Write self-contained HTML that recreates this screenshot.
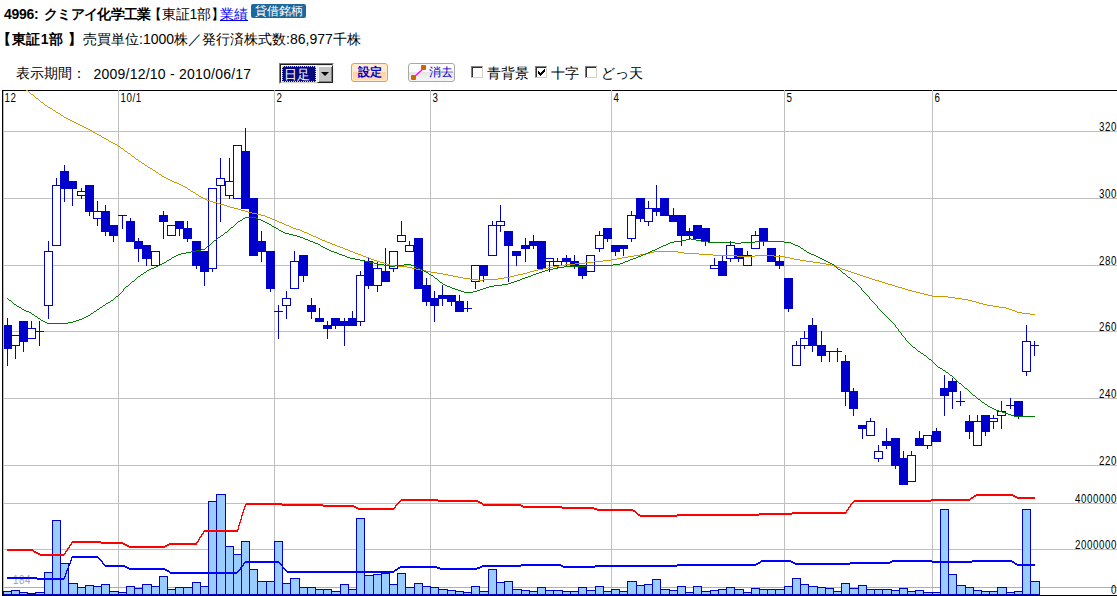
<!DOCTYPE html>
<html lang="ja">
<head>
<meta charset="utf-8">
<title>4996: クミアイ化学工業</title>
<style>
html,body{margin:0;padding:0;background:#fff;}
body{width:1117px;height:596px;overflow:hidden;position:relative;font-family:"Liberation Sans",sans-serif;color:#000;}
#chart{position:absolute;left:0;top:0;}
#chart text{font-family:"Liberation Sans",sans-serif;}
.t{position:absolute;white-space:nowrap;line-height:16px;font-size:14px;}
.b{font-weight:bold;}
a.lnk{color:#0000ee;text-decoration:underline;}
.badge{position:absolute;left:251px;top:4px;width:55px;height:14px;background:#1b6a9c;border-radius:2px;color:#fff;font-size:12px;line-height:14px;text-align:center;white-space:nowrap;overflow:hidden;}
.r3{font-size:14px;line-height:16px;}
.sel{position:absolute;left:279px;top:63px;width:55px;height:21px;box-sizing:border-box;border:1px solid;border-color:#808080 #f4f4f4 #f4f4f4 #808080;background:#fff;}
.sel .in{position:absolute;left:0;top:0;width:53px;height:19px;box-sizing:border-box;border:1px solid;border-color:#202020 #d4d0c8 #d4d0c8 #202020;}
.sel .hl{position:absolute;left:2px;top:2px;width:34px;height:16px;box-sizing:border-box;background:#0a0a80;color:#fff;font-size:13px;line-height:15px;border:1px dotted #e8e060;overflow:hidden;padding-left:1px;}
.sel .dd{position:absolute;left:37px;top:1px;width:16px;height:18px;background:#c4c4c4;box-sizing:border-box;border:1px solid;border-color:#e8e8e8 #202020 #202020 #e8e8e8;box-shadow:inset 1px 1px 0 #fff, inset -1px -1px 0 #808080;}
.sel .dd:after{content:"";position:absolute;left:3px;top:6px;border:4px solid transparent;border-top:4px solid #000;border-bottom:none;}
.btn1{position:absolute;left:351px;top:63px;width:37px;height:19px;box-sizing:border-box;border:1px solid #ff9a1e;border-radius:3px;background:linear-gradient(#fff0e0 0%,#ffe6cc 47%,#ffd2a4 48%,#ffdcb8 100%);box-shadow:inset 0 0 0 1px #ffe9cf;color:#0000cc;font-size:12px;font-weight:bold;line-height:17px;text-align:center;}
.btn2{position:absolute;left:408px;top:63px;width:47px;height:19px;box-sizing:border-box;border:1px solid #a8a8a8;border-radius:3px;background:linear-gradient(#ffffff 0%,#fbfbfb 47%,#e6e6e6 48%,#f6f6f6 100%);color:#0000cc;font-size:12px;line-height:17px;}
.btn2 span{position:absolute;left:20px;top:0;}
.btn2 svg{position:absolute;left:0px;top:0px;}
.cb{position:absolute;top:66px;width:12px;height:12px;box-sizing:border-box;border:1px solid;border-color:#808080 #d4d0c8 #d4d0c8 #808080;background:#fff;box-shadow:inset 1px 1px 0 #303030;}
</style>
</head>
<body>
<svg id="chart" width="1117" height="596" viewBox="0 0 1117 596" shape-rendering="crispEdges">
<rect x="2" y="90" width="1115" height="1" fill="#000"/>
<g fill="#c0c0c0">
<rect x="4" y="131" width="1113" height="1"/>
<rect x="4" y="198" width="1113" height="1"/>
<rect x="4" y="265" width="1113" height="1"/>
<rect x="4" y="331" width="1113" height="1"/>
<rect x="4" y="398" width="1113" height="1"/>
<rect x="4" y="465" width="1113" height="1"/>
<rect x="4" y="503" width="1113" height="1"/>
<rect x="4" y="549" width="1113" height="1"/>
<rect x="118" y="90" width="1" height="505"/>
<rect x="274" y="90" width="1" height="505"/>
<rect x="430" y="90" width="1" height="505"/>
<rect x="611" y="90" width="1" height="505"/>
<rect x="784" y="90" width="1" height="505"/>
<rect x="932" y="90" width="1" height="505"/>
</g>
<rect x="3" y="91" width="1" height="504" fill="#b4b4f0"/>
<rect x="4" y="587" width="1113" height="1" fill="#a8a8e8"/>
<text transform="translate(13,584) scale(0.78,1)" font-size="12.5" letter-spacing="0.742" fill="#a0a0dc">184</text>
<g>
<rect x="3" y="591" width="9" height="4" fill="#0000cc"/>
<rect x="4" y="592" width="7" height="2" fill="#99ccff"/>
<rect x="11" y="590" width="9" height="5" fill="#0000cc"/>
<rect x="12" y="591" width="7" height="3" fill="#99ccff"/>
<rect x="19" y="592" width="9" height="3" fill="#0000cc"/>
<rect x="20" y="593" width="7" height="1" fill="#99ccff"/>
<rect x="27" y="593" width="9" height="2" fill="#0000cc"/>
<rect x="35" y="592" width="10" height="3" fill="#0000cc"/>
<rect x="36" y="593" width="8" height="1" fill="#99ccff"/>
<rect x="44" y="572" width="9" height="23" fill="#0000cc"/>
<rect x="45" y="573" width="7" height="21" fill="#99ccff"/>
<rect x="52" y="520" width="9" height="75" fill="#0000cc"/>
<rect x="53" y="521" width="7" height="73" fill="#99ccff"/>
<rect x="60" y="563" width="9" height="32" fill="#0000cc"/>
<rect x="61" y="564" width="7" height="30" fill="#99ccff"/>
<rect x="68" y="583" width="10" height="12" fill="#0000cc"/>
<rect x="69" y="584" width="8" height="10" fill="#99ccff"/>
<rect x="77" y="587" width="9" height="8" fill="#0000cc"/>
<rect x="78" y="588" width="7" height="6" fill="#99ccff"/>
<rect x="85" y="585" width="9" height="10" fill="#0000cc"/>
<rect x="86" y="586" width="7" height="8" fill="#99ccff"/>
<rect x="93" y="586" width="9" height="9" fill="#0000cc"/>
<rect x="94" y="587" width="7" height="7" fill="#99ccff"/>
<rect x="101" y="584" width="9" height="11" fill="#0000cc"/>
<rect x="102" y="585" width="7" height="9" fill="#99ccff"/>
<rect x="109" y="591" width="10" height="4" fill="#0000cc"/>
<rect x="110" y="592" width="8" height="2" fill="#99ccff"/>
<rect x="118" y="592" width="9" height="3" fill="#0000cc"/>
<rect x="119" y="593" width="7" height="1" fill="#99ccff"/>
<rect x="126" y="586" width="9" height="9" fill="#0000cc"/>
<rect x="127" y="587" width="7" height="7" fill="#99ccff"/>
<rect x="134" y="588" width="9" height="7" fill="#0000cc"/>
<rect x="135" y="589" width="7" height="5" fill="#99ccff"/>
<rect x="142" y="584" width="10" height="11" fill="#0000cc"/>
<rect x="143" y="585" width="8" height="9" fill="#99ccff"/>
<rect x="151" y="586" width="9" height="9" fill="#0000cc"/>
<rect x="152" y="587" width="7" height="7" fill="#99ccff"/>
<rect x="159" y="576" width="9" height="19" fill="#0000cc"/>
<rect x="160" y="577" width="7" height="17" fill="#99ccff"/>
<rect x="167" y="589" width="9" height="6" fill="#0000cc"/>
<rect x="168" y="590" width="7" height="4" fill="#99ccff"/>
<rect x="175" y="587" width="9" height="8" fill="#0000cc"/>
<rect x="176" y="588" width="7" height="6" fill="#99ccff"/>
<rect x="183" y="587" width="10" height="8" fill="#0000cc"/>
<rect x="184" y="588" width="8" height="6" fill="#99ccff"/>
<rect x="192" y="582" width="9" height="13" fill="#0000cc"/>
<rect x="193" y="583" width="7" height="11" fill="#99ccff"/>
<rect x="200" y="586" width="9" height="9" fill="#0000cc"/>
<rect x="201" y="587" width="7" height="7" fill="#99ccff"/>
<rect x="208" y="501" width="9" height="94" fill="#0000cc"/>
<rect x="209" y="502" width="7" height="92" fill="#99ccff"/>
<rect x="216" y="494" width="10" height="101" fill="#0000cc"/>
<rect x="217" y="495" width="8" height="99" fill="#99ccff"/>
<rect x="225" y="546" width="9" height="49" fill="#0000cc"/>
<rect x="226" y="547" width="7" height="47" fill="#99ccff"/>
<rect x="233" y="554" width="9" height="41" fill="#0000cc"/>
<rect x="234" y="555" width="7" height="39" fill="#99ccff"/>
<rect x="241" y="541" width="9" height="54" fill="#0000cc"/>
<rect x="242" y="542" width="7" height="52" fill="#99ccff"/>
<rect x="249" y="569" width="9" height="26" fill="#0000cc"/>
<rect x="250" y="570" width="7" height="24" fill="#99ccff"/>
<rect x="257" y="581" width="10" height="14" fill="#0000cc"/>
<rect x="258" y="582" width="8" height="12" fill="#99ccff"/>
<rect x="266" y="581" width="9" height="14" fill="#0000cc"/>
<rect x="267" y="582" width="7" height="12" fill="#99ccff"/>
<rect x="274" y="541" width="9" height="54" fill="#0000cc"/>
<rect x="275" y="542" width="7" height="52" fill="#99ccff"/>
<rect x="282" y="583" width="9" height="12" fill="#0000cc"/>
<rect x="283" y="584" width="7" height="10" fill="#99ccff"/>
<rect x="290" y="578" width="10" height="17" fill="#0000cc"/>
<rect x="291" y="579" width="8" height="15" fill="#99ccff"/>
<rect x="299" y="587" width="9" height="8" fill="#0000cc"/>
<rect x="300" y="588" width="7" height="6" fill="#99ccff"/>
<rect x="307" y="587" width="9" height="8" fill="#0000cc"/>
<rect x="308" y="588" width="7" height="6" fill="#99ccff"/>
<rect x="315" y="589" width="9" height="6" fill="#0000cc"/>
<rect x="316" y="590" width="7" height="4" fill="#99ccff"/>
<rect x="323" y="589" width="9" height="6" fill="#0000cc"/>
<rect x="324" y="590" width="7" height="4" fill="#99ccff"/>
<rect x="331" y="591" width="10" height="4" fill="#0000cc"/>
<rect x="332" y="592" width="8" height="2" fill="#99ccff"/>
<rect x="340" y="584" width="9" height="11" fill="#0000cc"/>
<rect x="341" y="585" width="7" height="9" fill="#99ccff"/>
<rect x="348" y="589" width="9" height="6" fill="#0000cc"/>
<rect x="349" y="590" width="7" height="4" fill="#99ccff"/>
<rect x="356" y="518" width="9" height="77" fill="#0000cc"/>
<rect x="357" y="519" width="7" height="75" fill="#99ccff"/>
<rect x="364" y="575" width="10" height="20" fill="#0000cc"/>
<rect x="365" y="576" width="8" height="18" fill="#99ccff"/>
<rect x="373" y="574" width="9" height="21" fill="#0000cc"/>
<rect x="374" y="575" width="7" height="19" fill="#99ccff"/>
<rect x="381" y="573" width="9" height="22" fill="#0000cc"/>
<rect x="382" y="574" width="7" height="20" fill="#99ccff"/>
<rect x="389" y="584" width="9" height="11" fill="#0000cc"/>
<rect x="390" y="585" width="7" height="9" fill="#99ccff"/>
<rect x="397" y="573" width="9" height="22" fill="#0000cc"/>
<rect x="398" y="574" width="7" height="20" fill="#99ccff"/>
<rect x="405" y="587" width="10" height="8" fill="#0000cc"/>
<rect x="406" y="588" width="8" height="6" fill="#99ccff"/>
<rect x="414" y="583" width="9" height="12" fill="#0000cc"/>
<rect x="415" y="584" width="7" height="10" fill="#99ccff"/>
<rect x="422" y="586" width="9" height="9" fill="#0000cc"/>
<rect x="423" y="587" width="7" height="7" fill="#99ccff"/>
<rect x="430" y="587" width="9" height="8" fill="#0000cc"/>
<rect x="431" y="588" width="7" height="6" fill="#99ccff"/>
<rect x="438" y="589" width="10" height="6" fill="#0000cc"/>
<rect x="439" y="590" width="8" height="4" fill="#99ccff"/>
<rect x="447" y="590" width="9" height="5" fill="#0000cc"/>
<rect x="448" y="591" width="7" height="3" fill="#99ccff"/>
<rect x="455" y="591" width="9" height="4" fill="#0000cc"/>
<rect x="456" y="592" width="7" height="2" fill="#99ccff"/>
<rect x="463" y="592" width="9" height="3" fill="#0000cc"/>
<rect x="464" y="593" width="7" height="1" fill="#99ccff"/>
<rect x="471" y="586" width="9" height="9" fill="#0000cc"/>
<rect x="472" y="587" width="7" height="7" fill="#99ccff"/>
<rect x="479" y="591" width="10" height="4" fill="#0000cc"/>
<rect x="480" y="592" width="8" height="2" fill="#99ccff"/>
<rect x="488" y="569" width="9" height="26" fill="#0000cc"/>
<rect x="489" y="570" width="7" height="24" fill="#99ccff"/>
<rect x="496" y="582" width="9" height="13" fill="#0000cc"/>
<rect x="497" y="583" width="7" height="11" fill="#99ccff"/>
<rect x="504" y="581" width="9" height="14" fill="#0000cc"/>
<rect x="505" y="582" width="7" height="12" fill="#99ccff"/>
<rect x="512" y="589" width="10" height="6" fill="#0000cc"/>
<rect x="513" y="590" width="8" height="4" fill="#99ccff"/>
<rect x="521" y="590" width="9" height="5" fill="#0000cc"/>
<rect x="522" y="591" width="7" height="3" fill="#99ccff"/>
<rect x="529" y="591" width="9" height="4" fill="#0000cc"/>
<rect x="530" y="592" width="7" height="2" fill="#99ccff"/>
<rect x="537" y="587" width="9" height="8" fill="#0000cc"/>
<rect x="538" y="588" width="7" height="6" fill="#99ccff"/>
<rect x="545" y="590" width="9" height="5" fill="#0000cc"/>
<rect x="546" y="591" width="7" height="3" fill="#99ccff"/>
<rect x="553" y="590" width="10" height="5" fill="#0000cc"/>
<rect x="554" y="591" width="8" height="3" fill="#99ccff"/>
<rect x="562" y="591" width="9" height="4" fill="#0000cc"/>
<rect x="563" y="592" width="7" height="2" fill="#99ccff"/>
<rect x="570" y="591" width="9" height="4" fill="#0000cc"/>
<rect x="571" y="592" width="7" height="2" fill="#99ccff"/>
<rect x="578" y="587" width="9" height="8" fill="#0000cc"/>
<rect x="579" y="588" width="7" height="6" fill="#99ccff"/>
<rect x="586" y="590" width="10" height="5" fill="#0000cc"/>
<rect x="587" y="591" width="8" height="3" fill="#99ccff"/>
<rect x="595" y="586" width="9" height="9" fill="#0000cc"/>
<rect x="596" y="587" width="7" height="7" fill="#99ccff"/>
<rect x="603" y="591" width="9" height="4" fill="#0000cc"/>
<rect x="604" y="592" width="7" height="2" fill="#99ccff"/>
<rect x="611" y="589" width="9" height="6" fill="#0000cc"/>
<rect x="612" y="590" width="7" height="4" fill="#99ccff"/>
<rect x="619" y="591" width="9" height="4" fill="#0000cc"/>
<rect x="620" y="592" width="7" height="2" fill="#99ccff"/>
<rect x="627" y="581" width="10" height="14" fill="#0000cc"/>
<rect x="628" y="582" width="8" height="12" fill="#99ccff"/>
<rect x="636" y="585" width="9" height="10" fill="#0000cc"/>
<rect x="637" y="586" width="7" height="8" fill="#99ccff"/>
<rect x="644" y="584" width="9" height="11" fill="#0000cc"/>
<rect x="645" y="585" width="7" height="9" fill="#99ccff"/>
<rect x="652" y="579" width="9" height="16" fill="#0000cc"/>
<rect x="653" y="580" width="7" height="14" fill="#99ccff"/>
<rect x="660" y="589" width="10" height="6" fill="#0000cc"/>
<rect x="661" y="590" width="8" height="4" fill="#99ccff"/>
<rect x="669" y="590" width="9" height="5" fill="#0000cc"/>
<rect x="670" y="591" width="7" height="3" fill="#99ccff"/>
<rect x="677" y="586" width="9" height="9" fill="#0000cc"/>
<rect x="678" y="587" width="7" height="7" fill="#99ccff"/>
<rect x="685" y="592" width="9" height="3" fill="#0000cc"/>
<rect x="686" y="593" width="7" height="1" fill="#99ccff"/>
<rect x="693" y="586" width="9" height="9" fill="#0000cc"/>
<rect x="694" y="587" width="7" height="7" fill="#99ccff"/>
<rect x="701" y="591" width="10" height="4" fill="#0000cc"/>
<rect x="702" y="592" width="8" height="2" fill="#99ccff"/>
<rect x="710" y="590" width="9" height="5" fill="#0000cc"/>
<rect x="711" y="591" width="7" height="3" fill="#99ccff"/>
<rect x="718" y="589" width="9" height="6" fill="#0000cc"/>
<rect x="719" y="590" width="7" height="4" fill="#99ccff"/>
<rect x="726" y="587" width="9" height="8" fill="#0000cc"/>
<rect x="727" y="588" width="7" height="6" fill="#99ccff"/>
<rect x="734" y="589" width="10" height="6" fill="#0000cc"/>
<rect x="735" y="590" width="8" height="4" fill="#99ccff"/>
<rect x="743" y="592" width="9" height="3" fill="#0000cc"/>
<rect x="744" y="593" width="7" height="1" fill="#99ccff"/>
<rect x="751" y="588" width="9" height="7" fill="#0000cc"/>
<rect x="752" y="589" width="7" height="5" fill="#99ccff"/>
<rect x="759" y="589" width="9" height="6" fill="#0000cc"/>
<rect x="760" y="590" width="7" height="4" fill="#99ccff"/>
<rect x="767" y="589" width="9" height="6" fill="#0000cc"/>
<rect x="768" y="590" width="7" height="4" fill="#99ccff"/>
<rect x="775" y="589" width="10" height="6" fill="#0000cc"/>
<rect x="776" y="590" width="8" height="4" fill="#99ccff"/>
<rect x="784" y="586" width="9" height="9" fill="#0000cc"/>
<rect x="785" y="587" width="7" height="7" fill="#99ccff"/>
<rect x="792" y="578" width="9" height="17" fill="#0000cc"/>
<rect x="793" y="579" width="7" height="15" fill="#99ccff"/>
<rect x="800" y="584" width="9" height="11" fill="#0000cc"/>
<rect x="801" y="585" width="7" height="9" fill="#99ccff"/>
<rect x="808" y="586" width="10" height="9" fill="#0000cc"/>
<rect x="809" y="587" width="8" height="7" fill="#99ccff"/>
<rect x="817" y="587" width="9" height="8" fill="#0000cc"/>
<rect x="818" y="588" width="7" height="6" fill="#99ccff"/>
<rect x="825" y="588" width="9" height="7" fill="#0000cc"/>
<rect x="826" y="589" width="7" height="5" fill="#99ccff"/>
<rect x="833" y="591" width="9" height="4" fill="#0000cc"/>
<rect x="834" y="592" width="7" height="2" fill="#99ccff"/>
<rect x="841" y="583" width="9" height="12" fill="#0000cc"/>
<rect x="842" y="584" width="7" height="10" fill="#99ccff"/>
<rect x="849" y="588" width="10" height="7" fill="#0000cc"/>
<rect x="850" y="589" width="8" height="5" fill="#99ccff"/>
<rect x="858" y="585" width="9" height="10" fill="#0000cc"/>
<rect x="859" y="586" width="7" height="8" fill="#99ccff"/>
<rect x="866" y="589" width="9" height="6" fill="#0000cc"/>
<rect x="867" y="590" width="7" height="4" fill="#99ccff"/>
<rect x="874" y="589" width="9" height="6" fill="#0000cc"/>
<rect x="875" y="590" width="7" height="4" fill="#99ccff"/>
<rect x="882" y="589" width="10" height="6" fill="#0000cc"/>
<rect x="883" y="590" width="8" height="4" fill="#99ccff"/>
<rect x="891" y="590" width="9" height="5" fill="#0000cc"/>
<rect x="892" y="591" width="7" height="3" fill="#99ccff"/>
<rect x="899" y="588" width="9" height="7" fill="#0000cc"/>
<rect x="900" y="589" width="7" height="5" fill="#99ccff"/>
<rect x="907" y="591" width="9" height="4" fill="#0000cc"/>
<rect x="908" y="592" width="7" height="2" fill="#99ccff"/>
<rect x="915" y="590" width="9" height="5" fill="#0000cc"/>
<rect x="916" y="591" width="7" height="3" fill="#99ccff"/>
<rect x="923" y="592" width="10" height="3" fill="#0000cc"/>
<rect x="924" y="593" width="8" height="1" fill="#99ccff"/>
<rect x="932" y="592" width="9" height="3" fill="#0000cc"/>
<rect x="933" y="593" width="7" height="1" fill="#99ccff"/>
<rect x="940" y="509" width="9" height="86" fill="#0000cc"/>
<rect x="941" y="510" width="7" height="84" fill="#99ccff"/>
<rect x="948" y="574" width="9" height="21" fill="#0000cc"/>
<rect x="949" y="575" width="7" height="19" fill="#99ccff"/>
<rect x="956" y="585" width="10" height="10" fill="#0000cc"/>
<rect x="957" y="586" width="8" height="8" fill="#99ccff"/>
<rect x="965" y="587" width="9" height="8" fill="#0000cc"/>
<rect x="966" y="588" width="7" height="6" fill="#99ccff"/>
<rect x="973" y="590" width="9" height="5" fill="#0000cc"/>
<rect x="974" y="591" width="7" height="3" fill="#99ccff"/>
<rect x="981" y="591" width="9" height="4" fill="#0000cc"/>
<rect x="982" y="592" width="7" height="2" fill="#99ccff"/>
<rect x="989" y="591" width="9" height="4" fill="#0000cc"/>
<rect x="990" y="592" width="7" height="2" fill="#99ccff"/>
<rect x="997" y="587" width="10" height="8" fill="#0000cc"/>
<rect x="998" y="588" width="8" height="6" fill="#99ccff"/>
<rect x="1006" y="592" width="9" height="3" fill="#0000cc"/>
<rect x="1007" y="593" width="7" height="1" fill="#99ccff"/>
<rect x="1014" y="591" width="9" height="4" fill="#0000cc"/>
<rect x="1015" y="592" width="7" height="2" fill="#99ccff"/>
<rect x="1022" y="509" width="9" height="86" fill="#0000cc"/>
<rect x="1023" y="510" width="7" height="84" fill="#99ccff"/>
<rect x="1030" y="581" width="10" height="14" fill="#0000cc"/>
<rect x="1031" y="582" width="8" height="12" fill="#99ccff"/>
</g>
<g fill="#0000cc">
<rect x="7" y="318" width="1" height="48"/>
<rect x="4" y="325" width="8" height="24"/>
<rect x="15" y="335" width="1" height="24"/>
<rect x="11" y="335" width="9" height="11"/>
<rect x="12" y="336" width="7" height="9" fill="#fff"/>
<rect x="23" y="321" width="1" height="31"/>
<rect x="19" y="321" width="9" height="21"/>
<rect x="31" y="321" width="1" height="18"/>
<rect x="27" y="328" width="9" height="11"/>
<rect x="28" y="329" width="7" height="9" fill="#fff"/>
<rect x="39" y="321" width="1" height="25"/>
<rect x="35" y="331" width="9" height="1"/>
<rect x="48" y="241" width="1" height="78"/>
<rect x="44" y="251" width="9" height="55"/>
<rect x="45" y="252" width="7" height="53" fill="#fff"/>
<rect x="56" y="178" width="1" height="68"/>
<rect x="52" y="185" width="9" height="61"/>
<rect x="53" y="186" width="7" height="59" fill="#fff"/>
<rect x="64" y="165" width="1" height="37"/>
<rect x="60" y="171" width="9" height="18"/>
<rect x="72" y="181" width="1" height="25"/>
<rect x="68" y="181" width="9" height="8"/>
<rect x="81" y="188" width="1" height="11"/>
<rect x="77" y="191" width="9" height="5"/>
<rect x="78" y="192" width="7" height="3" fill="#fff"/>
<rect x="89" y="185" width="1" height="31"/>
<rect x="85" y="185" width="9" height="27"/>
<rect x="97" y="201" width="1" height="25"/>
<rect x="93" y="211" width="9" height="8"/>
<rect x="94" y="212" width="7" height="6" fill="#fff"/>
<rect x="105" y="205" width="1" height="31"/>
<rect x="101" y="211" width="9" height="21"/>
<rect x="113" y="225" width="1" height="17"/>
<rect x="109" y="225" width="9" height="11"/>
<rect x="122" y="215" width="1" height="14"/>
<rect x="118" y="215" width="9" height="1"/>
<rect x="130" y="218" width="1" height="24"/>
<rect x="126" y="221" width="9" height="21"/>
<rect x="138" y="238" width="1" height="24"/>
<rect x="134" y="241" width="9" height="8"/>
<rect x="146" y="245" width="1" height="21"/>
<rect x="142" y="245" width="9" height="14"/>
<rect x="155" y="251" width="1" height="15"/>
<rect x="151" y="251" width="9" height="15"/>
<rect x="152" y="252" width="7" height="13" fill="#fff"/>
<rect x="163" y="211" width="1" height="28"/>
<rect x="159" y="215" width="9" height="7"/>
<rect x="171" y="225" width="1" height="11"/>
<rect x="167" y="225" width="9" height="11"/>
<rect x="168" y="226" width="7" height="9" fill="#fff"/>
<rect x="179" y="221" width="1" height="15"/>
<rect x="175" y="221" width="9" height="8"/>
<rect x="187" y="221" width="1" height="21"/>
<rect x="183" y="228" width="9" height="11"/>
<rect x="196" y="241" width="1" height="28"/>
<rect x="192" y="241" width="9" height="25"/>
<rect x="204" y="251" width="1" height="35"/>
<rect x="200" y="251" width="9" height="21"/>
<rect x="212" y="188" width="1" height="84"/>
<rect x="208" y="188" width="9" height="81"/>
<rect x="209" y="189" width="7" height="79" fill="#fff"/>
<rect x="220" y="158" width="1" height="64"/>
<rect x="216" y="178" width="9" height="8"/>
<rect x="217" y="179" width="7" height="6" fill="#fff"/>
<rect x="229" y="158" width="1" height="41"/>
<rect x="225" y="181" width="9" height="15"/>
<rect x="226" y="182" width="7" height="13" fill="#fff"/>
<rect x="237" y="145" width="1" height="54"/>
<rect x="233" y="145" width="9" height="54"/>
<rect x="234" y="146" width="7" height="52" fill="#fff"/>
<rect x="245" y="128" width="1" height="81"/>
<rect x="241" y="151" width="9" height="58"/>
<rect x="253" y="198" width="1" height="58"/>
<rect x="249" y="198" width="9" height="58"/>
<rect x="261" y="231" width="1" height="31"/>
<rect x="257" y="241" width="9" height="11"/>
<rect x="270" y="251" width="1" height="41"/>
<rect x="266" y="251" width="9" height="38"/>
<rect x="278" y="305" width="1" height="34"/>
<rect x="274" y="311" width="9" height="1"/>
<rect x="286" y="291" width="1" height="28"/>
<rect x="282" y="298" width="9" height="8"/>
<rect x="283" y="299" width="7" height="6" fill="#fff"/>
<rect x="294" y="251" width="1" height="38"/>
<rect x="290" y="261" width="9" height="28"/>
<rect x="291" y="262" width="7" height="26" fill="#fff"/>
<rect x="303" y="255" width="1" height="27"/>
<rect x="299" y="255" width="9" height="21"/>
<rect x="311" y="298" width="1" height="21"/>
<rect x="307" y="305" width="9" height="7"/>
<rect x="319" y="308" width="1" height="14"/>
<rect x="315" y="318" width="9" height="4"/>
<rect x="327" y="321" width="1" height="18"/>
<rect x="323" y="325" width="9" height="4"/>
<rect x="335" y="318" width="1" height="11"/>
<rect x="331" y="318" width="9" height="8"/>
<rect x="344" y="318" width="1" height="28"/>
<rect x="340" y="321" width="9" height="5"/>
<rect x="352" y="311" width="1" height="15"/>
<rect x="348" y="318" width="9" height="8"/>
<rect x="360" y="271" width="1" height="55"/>
<rect x="356" y="275" width="9" height="47"/>
<rect x="357" y="276" width="7" height="45" fill="#fff"/>
<rect x="368" y="258" width="1" height="31"/>
<rect x="364" y="261" width="9" height="25"/>
<rect x="377" y="261" width="1" height="31"/>
<rect x="373" y="268" width="9" height="18"/>
<rect x="374" y="269" width="7" height="16" fill="#fff"/>
<rect x="385" y="248" width="1" height="34"/>
<rect x="381" y="271" width="9" height="11"/>
<rect x="393" y="251" width="1" height="21"/>
<rect x="389" y="251" width="9" height="18"/>
<rect x="390" y="252" width="7" height="16" fill="#fff"/>
<rect x="401" y="221" width="1" height="21"/>
<rect x="397" y="235" width="9" height="7"/>
<rect x="398" y="236" width="7" height="5" fill="#fff"/>
<rect x="409" y="241" width="1" height="11"/>
<rect x="405" y="245" width="9" height="7"/>
<rect x="406" y="246" width="7" height="5" fill="#fff"/>
<rect x="418" y="238" width="1" height="51"/>
<rect x="414" y="238" width="9" height="51"/>
<rect x="426" y="278" width="1" height="28"/>
<rect x="422" y="285" width="9" height="17"/>
<rect x="434" y="291" width="1" height="31"/>
<rect x="430" y="298" width="9" height="8"/>
<rect x="442" y="285" width="1" height="21"/>
<rect x="438" y="295" width="9" height="4"/>
<rect x="451" y="295" width="1" height="11"/>
<rect x="447" y="295" width="9" height="7"/>
<rect x="459" y="295" width="1" height="17"/>
<rect x="455" y="301" width="9" height="11"/>
<rect x="467" y="301" width="1" height="11"/>
<rect x="463" y="308" width="9" height="1"/>
<rect x="475" y="265" width="1" height="24"/>
<rect x="471" y="265" width="9" height="17"/>
<rect x="472" y="266" width="7" height="15" fill="#fff"/>
<rect x="483" y="265" width="1" height="17"/>
<rect x="479" y="265" width="9" height="11"/>
<rect x="492" y="221" width="1" height="35"/>
<rect x="488" y="225" width="9" height="31"/>
<rect x="489" y="226" width="7" height="29" fill="#fff"/>
<rect x="500" y="205" width="1" height="27"/>
<rect x="496" y="221" width="9" height="5"/>
<rect x="497" y="222" width="7" height="3" fill="#fff"/>
<rect x="508" y="231" width="1" height="51"/>
<rect x="504" y="231" width="9" height="15"/>
<rect x="516" y="251" width="1" height="15"/>
<rect x="512" y="251" width="9" height="5"/>
<rect x="525" y="238" width="1" height="24"/>
<rect x="521" y="245" width="9" height="4"/>
<rect x="533" y="235" width="1" height="14"/>
<rect x="529" y="241" width="9" height="5"/>
<rect x="541" y="241" width="1" height="28"/>
<rect x="537" y="241" width="9" height="28"/>
<rect x="549" y="258" width="1" height="14"/>
<rect x="545" y="258" width="9" height="4"/>
<rect x="546" y="259" width="7" height="2" fill="#fff"/>
<rect x="557" y="258" width="1" height="11"/>
<rect x="553" y="261" width="9" height="5"/>
<rect x="554" y="262" width="7" height="3" fill="#fff"/>
<rect x="566" y="255" width="1" height="11"/>
<rect x="562" y="258" width="9" height="4"/>
<rect x="574" y="255" width="1" height="14"/>
<rect x="570" y="261" width="9" height="5"/>
<rect x="582" y="265" width="1" height="14"/>
<rect x="578" y="265" width="9" height="11"/>
<rect x="590" y="255" width="1" height="17"/>
<rect x="586" y="255" width="9" height="17"/>
<rect x="587" y="256" width="7" height="15" fill="#fff"/>
<rect x="599" y="231" width="1" height="21"/>
<rect x="595" y="235" width="9" height="14"/>
<rect x="596" y="236" width="7" height="12" fill="#fff"/>
<rect x="607" y="228" width="1" height="14"/>
<rect x="603" y="228" width="9" height="11"/>
<rect x="615" y="245" width="1" height="11"/>
<rect x="611" y="245" width="9" height="7"/>
<rect x="623" y="245" width="1" height="11"/>
<rect x="619" y="245" width="9" height="4"/>
<rect x="631" y="211" width="1" height="31"/>
<rect x="627" y="215" width="9" height="24"/>
<rect x="628" y="216" width="7" height="22" fill="#fff"/>
<rect x="640" y="198" width="1" height="24"/>
<rect x="636" y="198" width="9" height="21"/>
<rect x="648" y="201" width="1" height="25"/>
<rect x="644" y="208" width="9" height="14"/>
<rect x="645" y="209" width="7" height="12" fill="#fff"/>
<rect x="656" y="185" width="1" height="31"/>
<rect x="652" y="208" width="9" height="4"/>
<rect x="664" y="198" width="1" height="18"/>
<rect x="660" y="198" width="9" height="18"/>
<rect x="673" y="208" width="1" height="14"/>
<rect x="669" y="215" width="9" height="7"/>
<rect x="681" y="215" width="1" height="31"/>
<rect x="677" y="215" width="9" height="21"/>
<rect x="689" y="228" width="1" height="11"/>
<rect x="685" y="231" width="9" height="5"/>
<rect x="697" y="225" width="1" height="14"/>
<rect x="693" y="225" width="9" height="14"/>
<rect x="705" y="228" width="1" height="18"/>
<rect x="701" y="228" width="9" height="14"/>
<rect x="714" y="258" width="1" height="11"/>
<rect x="710" y="265" width="9" height="4"/>
<rect x="711" y="266" width="7" height="2" fill="#fff"/>
<rect x="722" y="255" width="1" height="21"/>
<rect x="718" y="261" width="9" height="15"/>
<rect x="730" y="241" width="1" height="21"/>
<rect x="726" y="245" width="9" height="14"/>
<rect x="727" y="246" width="7" height="12" fill="#fff"/>
<rect x="738" y="248" width="1" height="14"/>
<rect x="734" y="248" width="9" height="11"/>
<rect x="747" y="251" width="1" height="15"/>
<rect x="743" y="255" width="9" height="11"/>
<rect x="744" y="256" width="7" height="9" fill="#fff"/>
<rect x="755" y="231" width="1" height="18"/>
<rect x="751" y="235" width="9" height="14"/>
<rect x="752" y="236" width="7" height="12" fill="#fff"/>
<rect x="763" y="228" width="1" height="18"/>
<rect x="759" y="228" width="9" height="14"/>
<rect x="771" y="248" width="1" height="14"/>
<rect x="767" y="248" width="9" height="14"/>
<rect x="779" y="255" width="1" height="14"/>
<rect x="775" y="261" width="9" height="5"/>
<rect x="788" y="278" width="1" height="34"/>
<rect x="784" y="278" width="9" height="31"/>
<rect x="796" y="341" width="1" height="25"/>
<rect x="792" y="345" width="9" height="21"/>
<rect x="793" y="346" width="7" height="19" fill="#fff"/>
<rect x="804" y="331" width="1" height="18"/>
<rect x="800" y="338" width="9" height="8"/>
<rect x="801" y="339" width="7" height="6" fill="#fff"/>
<rect x="812" y="318" width="1" height="34"/>
<rect x="808" y="325" width="9" height="21"/>
<rect x="821" y="331" width="1" height="31"/>
<rect x="817" y="345" width="9" height="11"/>
<rect x="829" y="351" width="1" height="11"/>
<rect x="825" y="351" width="9" height="1"/>
<rect x="837" y="348" width="1" height="14"/>
<rect x="833" y="351" width="9" height="1"/>
<rect x="845" y="355" width="1" height="51"/>
<rect x="841" y="361" width="9" height="31"/>
<rect x="853" y="388" width="1" height="28"/>
<rect x="849" y="391" width="9" height="18"/>
<rect x="862" y="425" width="1" height="14"/>
<rect x="858" y="425" width="9" height="4"/>
<rect x="870" y="418" width="1" height="18"/>
<rect x="866" y="421" width="9" height="15"/>
<rect x="867" y="422" width="7" height="13" fill="#fff"/>
<rect x="878" y="445" width="1" height="17"/>
<rect x="874" y="451" width="9" height="8"/>
<rect x="875" y="452" width="7" height="6" fill="#fff"/>
<rect x="886" y="428" width="1" height="21"/>
<rect x="882" y="441" width="9" height="5"/>
<rect x="895" y="438" width="1" height="31"/>
<rect x="891" y="438" width="9" height="28"/>
<rect x="903" y="451" width="1" height="34"/>
<rect x="899" y="458" width="9" height="27"/>
<rect x="911" y="451" width="1" height="31"/>
<rect x="907" y="455" width="9" height="27"/>
<rect x="908" y="456" width="7" height="25" fill="#fff"/>
<rect x="919" y="431" width="1" height="15"/>
<rect x="915" y="438" width="9" height="8"/>
<rect x="927" y="435" width="1" height="14"/>
<rect x="923" y="435" width="9" height="11"/>
<rect x="924" y="436" width="7" height="9" fill="#fff"/>
<rect x="936" y="428" width="1" height="14"/>
<rect x="932" y="431" width="9" height="11"/>
<rect x="944" y="375" width="1" height="41"/>
<rect x="940" y="388" width="9" height="8"/>
<rect x="952" y="378" width="1" height="31"/>
<rect x="948" y="381" width="9" height="11"/>
<rect x="960" y="391" width="1" height="15"/>
<rect x="956" y="401" width="9" height="1"/>
<rect x="969" y="415" width="1" height="24"/>
<rect x="965" y="421" width="9" height="11"/>
<rect x="977" y="415" width="1" height="31"/>
<rect x="973" y="421" width="9" height="25"/>
<rect x="974" y="422" width="7" height="23" fill="#fff"/>
<rect x="985" y="415" width="1" height="21"/>
<rect x="981" y="415" width="9" height="17"/>
<rect x="993" y="415" width="1" height="14"/>
<rect x="989" y="418" width="9" height="4"/>
<rect x="990" y="419" width="7" height="2" fill="#fff"/>
<rect x="1001" y="401" width="1" height="28"/>
<rect x="997" y="411" width="9" height="5"/>
<rect x="998" y="412" width="7" height="3" fill="#fff"/>
<rect x="1010" y="398" width="1" height="11"/>
<rect x="1006" y="405" width="9" height="1"/>
<rect x="1018" y="401" width="1" height="18"/>
<rect x="1014" y="401" width="9" height="15"/>
<rect x="1026" y="325" width="1" height="51"/>
<rect x="1022" y="341" width="9" height="31"/>
<rect x="1023" y="342" width="7" height="29" fill="#fff"/>
<rect x="1034" y="341" width="1" height="15"/>
<rect x="1030" y="345" width="9" height="1"/>
</g>
<path fill="#cc9900" d="M26 90h2v1h-2zM28 91h1v1h-1zM29 92h1v1h-1zM30 93h1v1h-1zM31 94h2v1h-2zM33 95h1v1h-1zM34 96h1v1h-1zM35 97h1v1h-1zM36 98h2v1h-2zM38 99h1v1h-1zM39 100h1v1h-1zM40 101h1v1h-1zM41 102h2v1h-2zM43 103h1v1h-1zM44 104h1v1h-1zM45 105h2v1h-2zM47 106h1v1h-1zM48 107h2v1h-2zM50 108h2v1h-2zM52 109h1v1h-1zM53 110h2v1h-2zM55 111h1v1h-1zM56 112h2v1h-2zM58 113h2v1h-2zM60 114h1v1h-1zM61 115h2v1h-2zM63 116h1v1h-1zM64 117h2v1h-2zM66 118h2v1h-2zM68 119h2v1h-2zM70 120h2v1h-2zM72 121h2v1h-2zM74 122h2v1h-2zM76 123h2v1h-2zM78 124h2v1h-2zM80 125h2v1h-2zM82 126h2v1h-2zM84 127h2v1h-2zM86 128h2v1h-2zM88 129h2v1h-2zM90 130h2v1h-2zM92 131h1v1h-1zM93 132h2v1h-2zM95 133h2v1h-2zM97 134h2v1h-2zM99 135h2v1h-2zM101 136h1v1h-1zM102 137h2v1h-2zM104 138h2v1h-2zM106 139h2v1h-2zM108 140h1v1h-1zM109 141h2v1h-2zM111 142h2v1h-2zM113 143h2v1h-2zM115 144h2v1h-2zM117 145h1v1h-1zM118 146h2v1h-2zM120 147h1v1h-1zM121 148h2v1h-2zM123 149h1v1h-1zM124 150h1v1h-1zM125 151h2v1h-2zM127 152h1v1h-1zM128 153h2v1h-2zM130 154h1v1h-1zM131 155h1v1h-1zM132 156h2v1h-2zM134 157h1v1h-1zM135 158h1v1h-1zM136 159h2v1h-2zM138 160h1v1h-1zM139 161h2v1h-2zM141 162h1v1h-1zM142 163h2v1h-2zM144 164h1v1h-1zM145 165h2v1h-2zM147 166h1v1h-1zM148 167h2v1h-2zM150 168h2v1h-2zM152 169h1v1h-1zM153 170h2v1h-2zM155 171h1v1h-1zM156 172h2v1h-2zM158 173h1v1h-1zM159 174h2v1h-2zM161 175h1v1h-1zM162 176h2v1h-2zM164 177h2v1h-2zM166 178h2v1h-2zM168 179h2v1h-2zM170 180h2v1h-2zM172 181h2v1h-2zM174 182h3v1h-3zM177 183h2v1h-2zM179 184h2v1h-2zM181 185h2v1h-2zM183 186h2v1h-2zM185 187h2v1h-2zM187 188h1v1h-1zM188 189h2v1h-2zM190 190h1v1h-1zM191 191h2v1h-2zM193 192h2v1h-2zM195 193h1v1h-1zM196 194h2v1h-2zM198 195h1v1h-1zM199 196h2v1h-2zM201 197h2v1h-2zM203 198h2v1h-2zM205 199h2v1h-2zM207 200h3v1h-3zM210 201h3v1h-3zM213 202h4v1h-4zM217 203h3v1h-3zM220 204h4v1h-4zM224 205h3v1h-3zM227 206h3v1h-3zM230 207h4v1h-4zM234 208h4v1h-4zM238 209h3v1h-3zM241 210h4v1h-4zM245 211h3v1h-3zM248 212h4v1h-4zM252 213h5v1h-5zM257 214h4v1h-4zM261 215h4v1h-4zM265 216h2v1h-2zM267 217h3v1h-3zM270 218h2v1h-2zM272 219h3v1h-3zM275 220h2v1h-2zM277 221h2v1h-2zM279 222h3v1h-3zM282 223h2v1h-2zM284 224h2v1h-2zM286 225h3v1h-3zM289 226h2v1h-2zM291 227h2v1h-2zM293 228h3v1h-3zM296 229h4v1h-4zM300 230h2v1h-2zM302 231h2v1h-2zM304 232h3v1h-3zM307 233h2v1h-2zM309 234h2v1h-2zM311 235h2v1h-2zM313 236h3v1h-3zM316 237h2v1h-2zM318 238h2v1h-2zM320 239h2v1h-2zM322 240h3v1h-3zM325 241h2v1h-2zM327 242h3v1h-3zM330 243h2v1h-2zM332 244h3v1h-3zM335 245h2v1h-2zM337 246h3v1h-3zM340 247h3v1h-3zM343 248h2v1h-2zM345 249h3v1h-3zM348 250h2v1h-2zM350 251h3v1h-3zM654 251h24v1h-24zM353 252h2v1h-2zM650 252h4v1h-4zM678 252h6v1h-6zM355 253h3v1h-3zM645 253h5v1h-5zM684 253h15v1h-15zM358 254h3v1h-3zM640 254h5v1h-5zM699 254h14v1h-14zM361 255h2v1h-2zM634 255h6v1h-6zM713 255h24v1h-24zM755 255h19v1h-19zM363 256h3v1h-3zM628 256h6v1h-6zM737 256h18v1h-18zM774 256h11v1h-11zM366 257h3v1h-3zM622 257h6v1h-6zM785 257h5v1h-5zM369 258h2v1h-2zM617 258h5v1h-5zM790 258h4v1h-4zM371 259h3v1h-3zM611 259h6v1h-6zM794 259h6v1h-6zM374 260h3v1h-3zM603 260h8v1h-8zM800 260h6v1h-6zM377 261h3v1h-3zM594 261h9v1h-9zM806 261h7v1h-7zM380 262h4v1h-4zM585 262h9v1h-9zM813 262h7v1h-7zM384 263h3v1h-3zM575 263h10v1h-10zM820 263h6v1h-6zM387 264h3v1h-3zM565 264h10v1h-10zM826 264h5v1h-5zM390 265h8v1h-8zM559 265h6v1h-6zM831 265h3v1h-3zM398 266h9v1h-9zM553 266h6v1h-6zM834 266h3v1h-3zM407 267h5v1h-5zM548 267h5v1h-5zM837 267h3v1h-3zM412 268h4v1h-4zM543 268h5v1h-5zM840 268h2v1h-2zM416 269h5v1h-5zM538 269h5v1h-5zM842 269h3v1h-3zM421 270h5v1h-5zM534 270h4v1h-4zM845 270h3v1h-3zM426 271h5v1h-5zM530 271h4v1h-4zM848 271h3v1h-3zM431 272h6v1h-6zM527 272h3v1h-3zM851 272h3v1h-3zM437 273h6v1h-6zM523 273h4v1h-4zM854 273h3v1h-3zM443 274h5v1h-5zM518 274h5v1h-5zM857 274h3v1h-3zM448 275h5v1h-5zM514 275h4v1h-4zM860 275h3v1h-3zM453 276h5v1h-5zM510 276h4v1h-4zM863 276h3v1h-3zM458 277h5v1h-5zM504 277h6v1h-6zM866 277h3v1h-3zM463 278h7v1h-7zM498 278h6v1h-6zM869 278h3v1h-3zM470 279h8v1h-8zM483 279h15v1h-15zM872 279h3v1h-3zM478 280h5v1h-5zM875 280h4v1h-4zM879 281h3v1h-3zM882 282h3v1h-3zM885 283h3v1h-3zM888 284h4v1h-4zM892 285h3v1h-3zM895 286h3v1h-3zM898 287h4v1h-4zM902 288h3v1h-3zM905 289h3v1h-3zM908 290h4v1h-4zM912 291h4v1h-4zM916 292h4v1h-4zM920 293h4v1h-4zM924 294h4v1h-4zM928 295h4v1h-4zM932 296h16v1h-16zM948 297h7v1h-7zM955 298h7v1h-7zM962 299h6v1h-6zM968 300h4v1h-4zM972 301h4v1h-4zM976 302h3v1h-3zM979 303h4v1h-4zM983 304h4v1h-4zM987 305h6v1h-6zM993 306h6v1h-6zM999 307h7v1h-7zM1006 308h3v1h-3zM1009 309h3v1h-3zM1012 310h3v1h-3zM1015 311h2v1h-2zM1017 312h5v1h-5zM1022 313h8v1h-8zM1030 314h5v1h-5z"/>
<path fill="#007a00" d="M245 217h11v1h-11zM243 218h2v1h-2zM256 218h2v1h-2zM242 219h1v1h-1zM258 219h3v1h-3zM240 220h2v1h-2zM261 220h2v1h-2zM238 221h2v1h-2zM263 221h2v1h-2zM237 222h1v1h-1zM265 222h2v1h-2zM236 223h1v1h-1zM267 223h2v1h-2zM235 224h1v1h-1zM269 224h2v1h-2zM234 225h1v1h-1zM271 225h1v1h-1zM233 226h1v1h-1zM272 226h2v1h-2zM231 227h2v1h-2zM274 227h2v1h-2zM230 228h1v1h-1zM276 228h2v1h-2zM229 229h1v1h-1zM278 229h1v1h-1zM228 230h1v1h-1zM279 230h2v1h-2zM227 231h1v1h-1zM281 231h2v1h-2zM225 232h2v1h-2zM283 232h2v1h-2zM224 233h1v1h-1zM285 233h4v1h-4zM223 234h1v1h-1zM289 234h4v1h-4zM221 235h2v1h-2zM293 235h4v1h-4zM220 236h1v1h-1zM297 236h3v1h-3zM218 237h2v1h-2zM300 237h3v1h-3zM217 238h1v1h-1zM303 238h2v1h-2zM690 238h1v1h-1zM216 239h1v1h-1zM305 239h3v1h-3zM686 239h4v1h-4zM691 239h5v1h-5zM214 240h2v1h-2zM308 240h2v1h-2zM681 240h5v1h-5zM696 240h5v1h-5zM213 241h1v1h-1zM310 241h3v1h-3zM674 241h7v1h-7zM701 241h7v1h-7zM755 241h29v1h-29zM212 242h1v1h-1zM313 242h2v1h-2zM670 242h4v1h-4zM708 242h27v1h-27zM741 242h14v1h-14zM784 242h7v1h-7zM211 243h1v1h-1zM315 243h3v1h-3zM668 243h2v1h-2zM735 243h6v1h-6zM791 243h2v1h-2zM210 244h1v1h-1zM318 244h2v1h-2zM666 244h2v1h-2zM793 244h2v1h-2zM208 245h2v1h-2zM320 245h1v1h-1zM663 245h3v1h-3zM795 245h3v1h-3zM207 246h1v1h-1zM321 246h2v1h-2zM661 246h2v1h-2zM798 246h2v1h-2zM206 247h1v1h-1zM323 247h2v1h-2zM659 247h2v1h-2zM800 247h1v1h-1zM205 248h1v1h-1zM325 248h2v1h-2zM657 248h2v1h-2zM801 248h2v1h-2zM201 249h4v1h-4zM327 249h2v1h-2zM655 249h2v1h-2zM803 249h1v1h-1zM196 250h5v1h-5zM329 250h2v1h-2zM652 250h3v1h-3zM804 250h2v1h-2zM191 251h5v1h-5zM331 251h3v1h-3zM650 251h2v1h-2zM806 251h1v1h-1zM186 252h5v1h-5zM334 252h3v1h-3zM648 252h2v1h-2zM807 252h2v1h-2zM181 253h5v1h-5zM337 253h2v1h-2zM646 253h2v1h-2zM809 253h2v1h-2zM178 254h3v1h-3zM339 254h3v1h-3zM643 254h3v1h-3zM811 254h3v1h-3zM176 255h2v1h-2zM342 255h3v1h-3zM641 255h2v1h-2zM814 255h2v1h-2zM174 256h2v1h-2zM345 256h2v1h-2zM638 256h3v1h-3zM816 256h2v1h-2zM172 257h2v1h-2zM347 257h3v1h-3zM636 257h2v1h-2zM818 257h2v1h-2zM171 258h1v1h-1zM350 258h5v1h-5zM633 258h3v1h-3zM820 258h2v1h-2zM169 259h2v1h-2zM355 259h5v1h-5zM630 259h3v1h-3zM822 259h2v1h-2zM167 260h2v1h-2zM360 260h5v1h-5zM628 260h2v1h-2zM824 260h2v1h-2zM166 261h1v1h-1zM365 261h4v1h-4zM625 261h3v1h-3zM826 261h2v1h-2zM164 262h2v1h-2zM369 262h5v1h-5zM623 262h2v1h-2zM828 262h2v1h-2zM162 263h2v1h-2zM374 263h4v1h-4zM620 263h3v1h-3zM830 263h2v1h-2zM160 264h2v1h-2zM378 264h6v1h-6zM404 264h7v1h-7zM613 264h7v1h-7zM832 264h2v1h-2zM158 265h2v1h-2zM384 265h6v1h-6zM395 265h9v1h-9zM411 265h3v1h-3zM586 265h27v1h-27zM834 265h1v1h-1zM156 266h2v1h-2zM390 266h5v1h-5zM414 266h2v1h-2zM564 266h22v1h-22zM835 266h1v1h-1zM154 267h2v1h-2zM416 267h2v1h-2zM558 267h6v1h-6zM836 267h1v1h-1zM151 268h3v1h-3zM418 268h2v1h-2zM553 268h5v1h-5zM837 268h1v1h-1zM149 269h2v1h-2zM420 269h2v1h-2zM548 269h5v1h-5zM838 269h2v1h-2zM147 270h2v1h-2zM422 270h2v1h-2zM545 270h3v1h-3zM840 270h1v1h-1zM146 271h1v1h-1zM424 271h2v1h-2zM542 271h3v1h-3zM841 271h1v1h-1zM144 272h2v1h-2zM426 272h2v1h-2zM539 272h3v1h-3zM842 272h1v1h-1zM143 273h1v1h-1zM428 273h1v1h-1zM536 273h3v1h-3zM843 273h2v1h-2zM141 274h2v1h-2zM429 274h2v1h-2zM533 274h3v1h-3zM845 274h1v1h-1zM140 275h1v1h-1zM431 275h2v1h-2zM531 275h2v1h-2zM846 275h1v1h-1zM138 276h2v1h-2zM433 276h1v1h-1zM528 276h3v1h-3zM847 276h1v1h-1zM137 277h1v1h-1zM434 277h1v1h-1zM525 277h3v1h-3zM848 277h2v1h-2zM136 278h1v1h-1zM435 278h2v1h-2zM522 278h3v1h-3zM850 278h1v1h-1zM135 279h1v1h-1zM437 279h1v1h-1zM520 279h2v1h-2zM851 279h1v1h-1zM134 280h1v1h-1zM438 280h1v1h-1zM517 280h3v1h-3zM852 280h1v1h-1zM132 281h2v1h-2zM439 281h1v1h-1zM514 281h3v1h-3zM853 281h2v1h-2zM131 282h1v1h-1zM440 282h2v1h-2zM511 282h3v1h-3zM855 282h1v1h-1zM130 283h1v1h-1zM442 283h1v1h-1zM508 283h3v1h-3zM856 283h1v1h-1zM129 284h1v1h-1zM443 284h2v1h-2zM502 284h6v1h-6zM857 284h1v1h-1zM128 285h1v1h-1zM445 285h2v1h-2zM494 285h8v1h-8zM858 285h1v1h-1zM126 286h2v1h-2zM447 286h3v1h-3zM489 286h5v1h-5zM859 286h1v1h-1zM125 287h1v1h-1zM450 287h2v1h-2zM486 287h3v1h-3zM860 287h1v1h-1zM124 288h1v1h-1zM452 288h3v1h-3zM483 288h3v1h-3zM861 288h1v1h-1zM123 289h1v1h-1zM455 289h3v1h-3zM480 289h3v1h-3zM861 289h1v1h-1zM123 290h1v1h-1zM458 290h3v1h-3zM477 290h3v1h-3zM862 290h1v1h-1zM122 291h1v1h-1zM461 291h3v1h-3zM473 291h4v1h-4zM863 291h1v1h-1zM121 292h1v1h-1zM464 292h9v1h-9zM864 292h1v1h-1zM120 293h1v1h-1zM865 293h1v1h-1zM119 294h1v1h-1zM866 294h1v1h-1zM118 295h1v1h-1zM867 295h1v1h-1zM116 296h2v1h-2zM868 296h1v1h-1zM115 297h1v1h-1zM869 297h1v1h-1zM7 298h1v1h-1zM114 298h1v1h-1zM869 298h1v1h-1zM8 299h1v1h-1zM113 299h1v1h-1zM870 299h1v1h-1zM9 300h2v1h-2zM111 300h2v1h-2zM871 300h1v1h-1zM11 301h1v1h-1zM110 301h1v1h-1zM872 301h1v1h-1zM12 302h1v1h-1zM108 302h2v1h-2zM873 302h1v1h-1zM13 303h1v1h-1zM106 303h2v1h-2zM874 303h1v1h-1zM14 304h2v1h-2zM105 304h1v1h-1zM875 304h1v1h-1zM16 305h1v1h-1zM103 305h2v1h-2zM876 305h1v1h-1zM17 306h2v1h-2zM102 306h1v1h-1zM877 306h1v1h-1zM19 307h2v1h-2zM100 307h2v1h-2zM877 307h1v1h-1zM21 308h1v1h-1zM99 308h1v1h-1zM878 308h1v1h-1zM22 309h2v1h-2zM97 309h2v1h-2zM879 309h1v1h-1zM24 310h2v1h-2zM96 310h1v1h-1zM880 310h1v1h-1zM26 311h3v1h-3zM94 311h2v1h-2zM881 311h1v1h-1zM29 312h2v1h-2zM93 312h1v1h-1zM882 312h1v1h-1zM31 313h1v1h-1zM91 313h2v1h-2zM883 313h1v1h-1zM32 314h2v1h-2zM90 314h1v1h-1zM884 314h1v1h-1zM34 315h1v1h-1zM88 315h2v1h-2zM885 315h1v1h-1zM35 316h2v1h-2zM86 316h2v1h-2zM886 316h1v1h-1zM37 317h1v1h-1zM84 317h2v1h-2zM887 317h1v1h-1zM38 318h2v1h-2zM82 318h2v1h-2zM888 318h1v1h-1zM40 319h1v1h-1zM79 319h3v1h-3zM889 319h1v1h-1zM41 320h2v1h-2zM76 320h3v1h-3zM890 320h1v1h-1zM43 321h2v1h-2zM73 321h3v1h-3zM891 321h1v1h-1zM45 322h2v1h-2zM68 322h5v1h-5zM892 322h1v1h-1zM47 323h21v1h-21zM893 323h1v1h-1zM894 324h1v1h-1zM895 325h1v1h-1zM895 326h1v1h-1zM896 327h1v1h-1zM897 328h1v1h-1zM898 329h1v1h-1zM898 330h1v1h-1zM899 331h1v1h-1zM900 332h1v1h-1zM901 333h1v1h-1zM901 334h1v1h-1zM902 335h1v1h-1zM903 336h1v1h-1zM904 337h1v1h-1zM905 338h1v1h-1zM905 339h1v1h-1zM906 340h1v1h-1zM907 341h1v1h-1zM908 342h1v1h-1zM909 343h1v1h-1zM910 344h1v1h-1zM911 345h1v1h-1zM912 346h1v1h-1zM913 347h2v1h-2zM915 348h1v1h-1zM916 349h1v1h-1zM917 350h1v1h-1zM918 351h2v1h-2zM920 352h1v1h-1zM921 353h2v1h-2zM923 354h1v1h-1zM924 355h2v1h-2zM926 356h1v1h-1zM927 357h1v1h-1zM928 358h1v1h-1zM929 359h2v1h-2zM931 360h1v1h-1zM932 361h1v1h-1zM933 362h1v1h-1zM934 363h1v1h-1zM935 364h1v1h-1zM936 365h1v1h-1zM937 366h1v1h-1zM938 367h2v1h-2zM940 368h2v1h-2zM942 369h1v1h-1zM943 370h2v1h-2zM945 371h1v1h-1zM946 372h2v1h-2zM948 373h1v1h-1zM949 374h1v1h-1zM950 375h2v1h-2zM952 376h1v1h-1zM953 377h1v1h-1zM954 378h1v1h-1zM955 379h1v1h-1zM956 380h1v1h-1zM957 381h1v1h-1zM958 382h1v1h-1zM959 383h2v1h-2zM961 384h1v1h-1zM962 385h1v1h-1zM963 386h1v1h-1zM964 387h1v1h-1zM965 388h2v1h-2zM967 389h1v1h-1zM968 390h1v1h-1zM969 391h1v1h-1zM970 392h1v1h-1zM971 393h1v1h-1zM972 394h1v1h-1zM973 395h2v1h-2zM975 396h1v1h-1zM976 397h1v1h-1zM977 398h1v1h-1zM978 399h2v1h-2zM980 400h1v1h-1zM981 401h1v1h-1zM982 402h2v1h-2zM984 403h1v1h-1zM985 404h2v1h-2zM987 405h1v1h-1zM988 406h2v1h-2zM990 407h2v1h-2zM992 408h2v1h-2zM994 409h2v1h-2zM996 410h3v1h-3zM999 411h3v1h-3zM1002 412h3v1h-3zM1005 413h3v1h-3zM1008 414h3v1h-3zM1011 415h3v1h-3zM1014 416h21v1h-21z"/>
<path fill="#ff0000" d="M976 494h37v1h-37zM974 495h41v1h-41zM973 496h3v1h-3zM1013 496h4v1h-4zM971 497h3v1h-3zM1015 497h20v1h-20zM970 498h3v1h-3zM1017 498h18v1h-18zM401 499h37v1h-37zM931 499h40v1h-40zM400 500h78v1h-78zM854 500h116v1h-116zM399 501h2v1h-2zM438 501h42v1h-42zM853 501h78v1h-78zM398 502h2v1h-2zM478 502h4v1h-4zM852 502h2v1h-2zM246 503h36v1h-36zM397 503h2v1h-2zM480 503h3v1h-3zM851 503h2v1h-2zM245 504h78v1h-78zM396 504h2v1h-2zM482 504h39v1h-39zM850 504h2v1h-2zM245 505h1v1h-1zM282 505h72v1h-72zM395 505h2v1h-2zM483 505h40v1h-40zM850 505h1v1h-1zM244 506h2v1h-2zM323 506h33v1h-33zM395 506h1v1h-1zM521 506h41v1h-41zM849 506h2v1h-2zM244 507h1v1h-1zM354 507h4v1h-4zM394 507h2v1h-2zM523 507h71v1h-71zM848 507h2v1h-2zM244 508h1v1h-1zM356 508h39v1h-39zM562 508h35v1h-35zM848 508h1v1h-1zM243 509h2v1h-2zM358 509h36v1h-36zM594 509h39v1h-39zM847 509h2v1h-2zM243 510h1v1h-1zM597 510h38v1h-38zM846 510h2v1h-2zM243 511h1v1h-1zM633 511h3v1h-3zM846 511h1v1h-1zM242 512h2v1h-2zM635 512h2v1h-2zM792 512h55v1h-55zM242 513h1v1h-1zM636 513h2v1h-2zM759 513h87v1h-87zM242 514h1v1h-1zM637 514h3v1h-3zM677 514h115v1h-115zM241 515h2v1h-2zM638 515h121v1h-121zM241 516h1v1h-1zM640 516h37v1h-37zM241 517h1v1h-1zM241 518h1v1h-1zM240 519h2v1h-2zM240 520h1v1h-1zM240 521h1v1h-1zM239 522h2v1h-2zM239 523h1v1h-1zM239 524h1v1h-1zM238 525h2v1h-2zM238 526h1v1h-1zM238 527h1v1h-1zM238 528h1v1h-1zM237 529h2v1h-2zM204 530h34v1h-34zM203 531h35v1h-35zM203 532h1v1h-1zM202 533h2v1h-2zM201 534h2v1h-2zM201 535h1v1h-1zM200 536h2v1h-2zM199 537h2v1h-2zM199 538h1v1h-1zM198 539h2v1h-2zM198 540h1v1h-1zM72 541h29v1h-29zM197 541h2v1h-2zM71 542h52v1h-52zM196 542h2v1h-2zM71 543h1v1h-1zM101 543h24v1h-24zM169 543h28v1h-28zM70 544h2v1h-2zM123 544h4v1h-4zM167 544h30v1h-30zM69 545h2v1h-2zM125 545h4v1h-4zM165 545h4v1h-4zM69 546h1v1h-1zM127 546h40v1h-40zM68 547h2v1h-2zM129 547h36v1h-36zM67 548h2v1h-2zM7 549h26v1h-26zM67 549h1v1h-1zM7 550h27v1h-27zM66 550h2v1h-2zM33 551h3v1h-3zM65 551h2v1h-2zM34 552h4v1h-4zM65 552h1v1h-1zM36 553h4v1h-4zM64 553h2v1h-2zM38 554h27v1h-27zM40 555h24v1h-24z"/>
<path fill="#0000ff" d="M72 556h26v1h-26zM71 557h28v1h-28zM71 558h1v1h-1zM98 558h2v1h-2zM71 559h1v1h-1zM99 559h2v1h-2zM70 560h2v1h-2zM100 560h2v1h-2zM761 560h30v1h-30zM892 560h40v1h-40zM972 560h40v1h-40zM70 561h1v1h-1zM101 561h2v1h-2zM245 561h34v1h-34zM760 561h33v1h-33zM890 561h124v1h-124zM70 562h1v1h-1zM102 562h1v1h-1zM244 562h36v1h-36zM758 562h3v1h-3zM791 562h4v1h-4zM850 562h42v1h-42zM932 562h40v1h-40zM1012 562h3v1h-3zM69 563h2v1h-2zM102 563h2v1h-2zM243 563h2v1h-2zM279 563h2v1h-2zM756 563h4v1h-4zM793 563h97v1h-97zM1014 563h3v1h-3zM69 564h1v1h-1zM103 564h2v1h-2zM243 564h1v1h-1zM280 564h2v1h-2zM521 564h40v1h-40zM677 564h81v1h-81zM795 564h55v1h-55zM1015 564h20v1h-20zM68 565h2v1h-2zM104 565h21v1h-21zM242 565h2v1h-2zM281 565h2v1h-2zM482 565h81v1h-81zM595 565h161v1h-161zM1017 565h18v1h-18zM68 566h1v1h-1zM105 566h22v1h-22zM241 566h2v1h-2zM282 566h1v1h-1zM400 566h37v1h-37zM480 566h41v1h-41zM561 566h116v1h-116zM68 567h1v1h-1zM125 567h4v1h-4zM240 567h2v1h-2zM282 567h2v1h-2zM398 567h42v1h-42zM477 567h5v1h-5zM563 567h32v1h-32zM67 568h2v1h-2zM127 568h38v1h-38zM240 568h1v1h-1zM283 568h2v1h-2zM397 568h3v1h-3zM437 568h43v1h-43zM67 569h1v1h-1zM129 569h38v1h-38zM239 569h2v1h-2zM284 569h2v1h-2zM395 569h3v1h-3zM440 569h37v1h-37zM66 570h2v1h-2zM165 570h4v1h-4zM238 570h2v1h-2zM285 570h2v1h-2zM394 570h3v1h-3zM66 571h1v1h-1zM167 571h3v1h-3zM237 571h2v1h-2zM286 571h109v1h-109zM66 572h1v1h-1zM169 572h69v1h-69zM287 572h107v1h-107zM65 573h2v1h-2zM170 573h67v1h-67zM65 574h1v1h-1zM65 575h1v1h-1zM64 576h2v1h-2zM7 577h30v1h-30zM64 577h1v1h-1zM7 578h58v1h-58zM37 579h27v1h-27z"/>
<rect x="2" y="90" width="1" height="506" fill="#000"/>
<rect x="2" y="595" width="1115" height="1" fill="#000"/>
<g font-size="12.5" fill="#000" letter-spacing="0.742">
<text transform="translate(1099,131) scale(0.78,1)">320</text>
<text transform="translate(1099,198) scale(0.78,1)">300</text>
<text transform="translate(1099,265) scale(0.78,1)">280</text>
<text transform="translate(1099,331) scale(0.78,1)">260</text>
<text transform="translate(1099,398) scale(0.78,1)">240</text>
<text transform="translate(1099,465) scale(0.78,1)">220</text>
<text transform="translate(1075,503) scale(0.78,1)">4000000</text>
<text transform="translate(1075,549) scale(0.78,1)">2000000</text>
<text transform="translate(1111,594) scale(0.78,1)">0</text>
<text transform="translate(4.5,102) scale(0.78,1)">12</text>
<text transform="translate(120.5,102) scale(0.78,1)">10/1</text>
<text transform="translate(276.5,102) scale(0.78,1)">2</text>
<text transform="translate(432.5,102) scale(0.78,1)">3</text>
<text transform="translate(613.5,102) scale(0.78,1)">4</text>
<text transform="translate(786.5,102) scale(0.78,1)">5</text>
<text transform="translate(934.5,102) scale(0.78,1)">6</text>
</g>
</svg>
<div class="t b" style="left:4px;top:6px;letter-spacing:-0.3px;">4996:</div>
<div class="t b" style="left:44px;top:6px;letter-spacing:-0.7px;">クミアイ化学工業</div>
<div class="t" style="left:147.5px;top:6px;">【東証1部】</div>
<div class="t" style="left:220px;top:6px;"><a class="lnk">業績</a></div>
<div class="badge">貸借銘柄</div>
<div class="t b" style="left:-3px;top:31px;letter-spacing:0.6px;">【東証1部 】</div>
<div class="t" style="left:83px;top:31px;">売買単位:1000株／発行済株式数:86,977千株</div>
<div class="t r3" style="left:16px;top:65px;">表示期間：</div>
<div class="t r3" style="left:93.5px;top:66px;letter-spacing:0.23px;">2009/12/10 - 2010/06/17</div>
<div class="sel"><div class="in"></div><div class="hl">日足</div><div class="dd"></div></div>
<div class="btn1">設定</div>
<div class="btn2"><svg width="18" height="17" viewBox="0 0 18 17"><line x1="4.5" y1="13.5" x2="15" y2="4" stroke="#ff00ff" stroke-width="1.3"/><rect x="2" y="11" width="5" height="5" rx="1" fill="#cc6600"/><rect x="12" y="1" width="5" height="5" rx="1" fill="#cc6600"/></svg><span>消去</span></div>
<div class="cb" style="left:471px;"></div>
<div class="t r3" style="left:487px;top:65px;">青背景</div>
<div class="cb" style="left:535px;"><svg width="7" height="7" viewBox="0 0 7 7" shape-rendering="crispEdges" style="position:absolute;left:2px;top:2px"><g fill="#000"><rect x="0" y="2" width="1" height="3"/><rect x="1" y="3" width="1" height="3"/><rect x="2" y="4" width="1" height="3"/><rect x="3" y="3" width="1" height="3"/><rect x="4" y="2" width="1" height="3"/><rect x="5" y="1" width="1" height="3"/><rect x="6" y="0" width="1" height="3"/></g></svg></div>
<div class="t r3" style="left:551px;top:65px;">十字</div>
<div class="cb" style="left:585px;"></div>
<div class="t r3" style="left:600.5px;top:65px;">どっ天</div>
</body>
</html>
